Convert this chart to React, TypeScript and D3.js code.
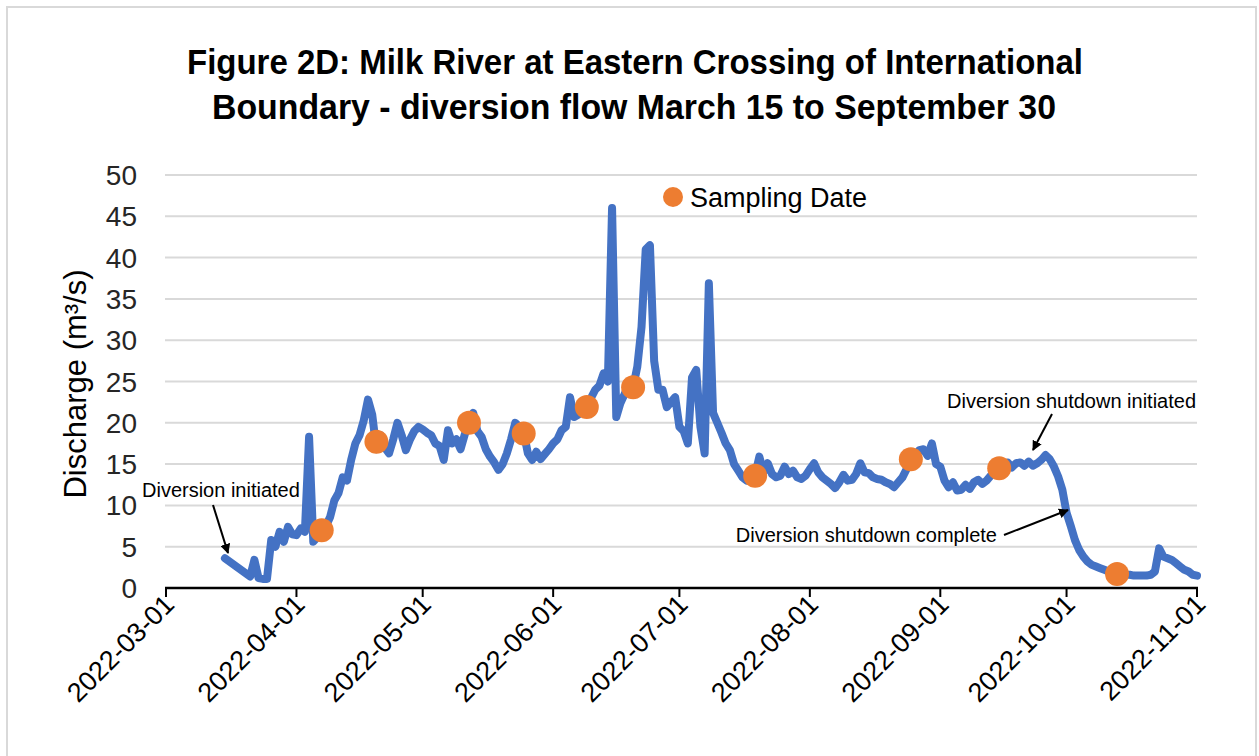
import React from 'react';
import * as d3 from 'd3';

// Daily discharge (m3/s), one array per month
const marDays = [15, 21, 22, 23, 24, 25, 26, 27, 28, 29, 30, 31];
const marFlow = [3.6, 1.4, 3.4, 1.2, 1.1, 1.1, 5.8, 5.0, 6.8, 5.6, 7.4, 6.5];
const aprFlow = [6.4, 7.2, 6.8, 18.3, 5.6, 6.2, 7.0, 7.5, 8.6, 10.6, 11.5, 13.4, 13.0, 15.5, 17.5, 18.5, 20.3, 22.8, 21.0, 16.8, 18.5, 17.0, 16.3, 18.0, 20.0, 18.5, 16.7, 18.0, 19.0, 19.5];
const mayFlow = [19.2, 18.8, 18.5, 17.5, 17.2, 15.5, 19.1, 17.5, 18.0, 16.8, 18.6, 20.0, 21.2, 19.0, 18.3, 16.8, 15.9, 15.2, 14.3, 15.0, 16.3, 18.0, 20.0, 19.5, 18.8, 16.3, 15.5, 16.5, 15.6, 16.2, 16.8];
const junFlow = [17.5, 18.0, 19.1, 19.5, 23.1, 20.7, 21.0, 21.5, 21.9, 23.0, 24.0, 24.5, 26.0, 25.0, 46.0, 20.7, 22.4, 23.5, 24.8, 24.3, 26.8, 31.6, 41.0, 41.5, 27.5, 24.0, 24.0, 21.9, 22.5, 23.1];
const julFlow = [19.5, 19.0, 17.5, 25.5, 26.4, 19.5, 16.3, 36.9, 21.2, 20.0, 18.8, 17.5, 16.7, 15.0, 14.2, 13.4, 13.0, 13.2, 13.7, 15.9, 14.0, 15.1, 13.8, 13.4, 13.6, 14.7, 13.8, 14.2, 13.4, 13.2, 13.6];
const augFlow = [14.4, 15.1, 14.0, 13.4, 13.0, 12.6, 12.1, 12.8, 13.7, 13.0, 13.1, 13.8, 15.1, 14.0, 13.9, 13.4, 13.2, 13.1, 12.8, 12.6, 12.2, 12.8, 13.4, 14.4, 15.7, 16.0, 16.7, 16.8, 16.0, 17.5, 15.0];
const sepFlow = [14.7, 13.0, 12.2, 12.8, 11.8, 11.9, 12.5, 12.0, 12.8, 13.1, 12.6, 13.0, 13.6, 14.0, 14.5, 15.0, 15.2, 14.6, 15.1, 15.2, 14.8, 15.3, 14.8, 15.1, 15.5, 16.1, 15.6, 14.7, 13.5, 11.9];
const octFlow = [9.1, 7.5, 5.8, 4.6, 3.8, 3.2, 2.8, 2.6, 2.4, 2.2, 2.0, 1.9, 1.8, 1.7, 1.6, 1.6, 1.5, 1.5, 1.5, 1.5, 1.6, 2.0, 4.8, 3.8, 3.6, 3.4, 3.0, 2.6, 2.2, 2.0, 1.6];
const novFlow = [1.5];

// Sampling dates (orange markers)
const sampleDates = ['2022-04-07', '2022-04-20', '2022-05-12', '2022-05-25', '2022-06-09', '2022-06-20', '2022-07-19', '2022-08-25', '2022-09-15', '2022-10-13'];
const sampleValues = [7.0, 17.7, 20.0, 18.7, 21.9, 24.3, 13.6, 15.6, 14.5, 1.7];

const xTicks = ['2022-03-01', '2022-04-01', '2022-05-01', '2022-06-01', '2022-07-01', '2022-08-01', '2022-09-01', '2022-10-01', '2022-11-01'];
const yTicks = [0, 5, 10, 15, 20, 25, 30, 35, 40, 45, 50];

const parse = d3.utcParse('%Y-%m-%d');

type Pt = { date: Date; value: number };

const flow: Pt[] = [
  ...marDays.map((d, i) => ({ date: new Date(Date.UTC(2022, 2, d)), value: marFlow[i] })),
  ...[aprFlow, mayFlow, junFlow, julFlow, augFlow, sepFlow, octFlow, novFlow].flatMap((arr, m) =>
    arr.map((v, i) => ({ date: new Date(Date.UTC(2022, 3 + m, i + 1)), value: v }))
  ),
];

const samples: Pt[] = sampleDates.map((d, i) => ({ date: parse(d)!, value: sampleValues[i] }));

const BLUE = '#4472C4';
const ORANGE = '#ED7D31';
const FONT = '"Liberation Sans", Arial, sans-serif';

export default function App() {
  const width = 1259;
  const height = 756;
  const left = 166;
  const right = 1197;
  const top = 175;
  const bottom = 588;

  const x = d3.scaleUtc()
    .domain([parse('2022-03-01')!, parse('2022-11-01')!])
    .range([left, right]);

  const y = d3.scaleLinear()
    .domain([0, 50])
    .range([bottom, top]);

  const line = d3.line<Pt>()
    .x(d => x(d.date))
    .y(d => y(d.value));

  return (
    <svg width={width} height={height} style={{ position: 'absolute', left: 0, top: 0, background: '#fff' }}>
      <defs>
        <marker id="arrow" viewBox="0 0 10 10" refX="9" refY="5" markerWidth="5" markerHeight="5" orient="auto" markerUnits="strokeWidth">
          <path d="M0,0 L10,5 L0,10 z" fill="#000" />
        </marker>
      </defs>
      <rect x={7} y={7} width={1249} height={760} fill="#fff" stroke="#D9D9D9" strokeWidth={2} />

      {/* title */}
      <g fontFamily={'"Liberation Sans Narrow", "Liberation Sans", Arial, sans-serif'} fontWeight="bold" fontSize={35} fill="#000" textAnchor="middle">
        <text x={635} y={74} textLength={896} lengthAdjust="spacingAndGlyphs">Figure 2D: Milk River at Eastern Crossing of International</text>
        <text x={634} y={119} textLength={844} lengthAdjust="spacingAndGlyphs">Boundary - diversion flow March 15 to September 30</text>
      </g>

      {/* grid */}
      <g stroke="#D9D9D9" strokeWidth={2}>
        {yTicks.filter(t => t > 0).map(t => (
          <line key={t} x1={left - 1} x2={right} y1={y(t)} y2={y(t)} />
        ))}
      </g>

      {/* y tick labels */}
      <g fontFamily={FONT} fontSize={28} fill="#262626" textAnchor="end">
        {yTicks.map(t => (
          <text key={t} x={137} y={y(t) + 10}>{t}</text>
        ))}
      </g>
      <text transform="translate(86,384) rotate(-90)" textAnchor="middle" fontFamily={FONT} fontSize={31} fill="#000">
        Discharge (m³/s)
      </text>

      {/* x axis */}
      <line x1={left - 1} x2={right + 1} y1={bottom} y2={bottom} stroke="#000" strokeWidth={2.5} />
      <g stroke="#000" strokeWidth={2}>
        {xTicks.map(t => (
          <line key={t} x1={x(parse(t)!)} x2={x(parse(t)!)} y1={bottom} y2={bottom + 9} />
        ))}
      </g>
      <g fontFamily={FONT} fontSize={27} fill="#000" textAnchor="end">
        {xTicks.map(t => (
          <text key={t} transform={`translate(${x(parse(t)!) + 10},${bottom + 18}) rotate(-45)`}>{t}</text>
        ))}
      </g>

      {/* discharge line */}
      <path d={line(flow) || ''} fill="none" stroke={BLUE} strokeWidth={8} strokeLinejoin="round" strokeLinecap="round" />

      {/* sampling dates */}
      <g fill={ORANGE}>
        {samples.map((d, i) => (
          <circle key={i} cx={x(d.date)} cy={y(d.value)} r={12} />
        ))}
      </g>

      {/* legend */}
      <circle cx={673} cy={197} r={10} fill={ORANGE} />
      <text x={690} y={207} fontFamily={FONT} fontSize={27} fill="#000">Sampling Date</text>

      {/* annotations */}
      <g fontFamily={FONT} fontSize={20} fill="#000">
        <text x={142} y={497}>Diversion initiated</text>
        <text x={947} y={408}>Diversion shutdown initiated</text>
        <text x={997} y={542} textAnchor="end">Diversion shutdown complete</text>
      </g>
      <g stroke="#000" strokeWidth={2} markerEnd="url(#arrow)">
        <line x1={213} y1={505} x2={228} y2={553} />
        <line x1={1052} y1={414} x2={1033} y2={450} />
        <line x1={1004} y1={535} x2={1068} y2={510} />
      </g>
    </svg>
  );
}
